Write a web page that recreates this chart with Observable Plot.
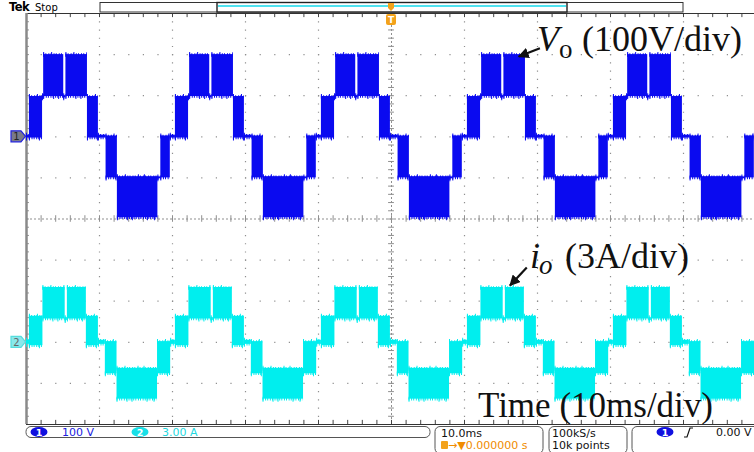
<!DOCTYPE html>
<html><head><meta charset="utf-8">
<script src="https://cdn.jsdelivr.net/npm/d3@7"></script>
<script src="https://cdn.jsdelivr.net/npm/@observablehq/plot@0.6"></script>
<style>
html,body{margin:0;padding:0;background:#fff;}
#chart{position:relative;width:754px;height:452px;overflow:hidden;}
#chart svg{display:block;}
</style></head><body><div id="chart"></div>
<script>
// ---- Channel 1 (output voltage, 100 V/div, ground at +2 div) ----
// breakpoints in ms, band code between consecutive breakpoints
const vBreaks = [0,
  0.4, 2.2, 2.35, 5.1, 5.4, 8.35, 9.85, 10.9, 12.45, 18.0, 18.4, 19.7,
  20.4, 22.2, 22.35, 25.1, 25.4, 28.35, 29.85, 30.9, 32.45, 38.0, 38.4, 39.7,
  40.4, 42.2, 42.35, 45.1, 45.4, 48.35, 49.85, 50.9, 52.45, 58.0, 58.4, 59.7,
  60.4, 62.2, 62.35, 65.1, 65.4, 68.35, 69.85, 70.9, 72.45, 78.0, 78.4, 79.7,
  80.4, 82.2, 82.35, 85.1, 85.4, 88.35, 89.85, 90.9, 92.45, 98.0, 98.4, 99.7, 100];
const vBands = ["z",
  "p1","h","p2","g","p2","p1","z","n1","n2","nh","n1","z",
  "p1","h","p2","g","p2","p1","z","n1","n2","nh","n1","z",
  "p1","h","p2","g","p2","p1","z","n1","n2","nh","n1","z",
  "p1","h","p2","g","p2","p1","z","n1","n2","nh","n1","z",
  "p1","h","p2","g","p2","p1","z","n1","n2","nh","n1","z"];
const vCodes = ["z", "p1", "h", "p2", "g", "n1", "nh", "n2"];
const vLow   = [-3,  -3,   95,  98,   95,  -100, -102, -197];   // volts
const vHigh  = [ 4,   98,  100, 200,  100,  2,   -98,  -97];

// ---- Channel 2 (output current, 3 A/div, ground at -3 div) ----
const iBreaks = [0,
  0.4, 2.25, 5.3, 5.6, 8.2, 9.85, 10.8, 12.4, 17.95, 19.75,
  20.4, 22.25, 25.3, 25.6, 28.2, 29.85, 30.8, 32.4, 37.95, 39.75,
  40.4, 42.25, 45.3, 45.6, 48.2, 49.85, 50.8, 52.4, 57.95, 59.75,
  60.4, 62.25, 65.3, 65.6, 68.2, 69.85, 70.8, 72.4, 77.95, 79.75,
  80.4, 82.25, 85.3, 85.6, 88.2, 89.85, 90.8, 92.4, 97.95, 99.75, 100];
const iBands = ["z",
  "p1","p2","g","p2","p1","z","n1","n2","n1","z",
  "p1","p2","g","p2","p1","z","n1","n2","n1","z",
  "p1","p2","g","p2","p1","z","n1","n2","n1","z",
  "p1","p2","g","p2","p1","z","n1","n2","n1","z",
  "p1","p2","g","p2","p1","z","n1","n2","n1","z"];
const iCodes = ["z", "p1", "p2", "g", "n1", "n2"];
const iLow   = [-0.15, -0.25, 1.7, 1.6, -2.3, -4.15];   // amps
const iHigh  = [ 0.15,  1.9,  4.0, 1.8, 0.05, -1.9];

const vPerDiv = 100, iPerDiv = 3, ch1Offset = 2, ch2Offset = -3;
const xTicksMajor = [10, 20, 30, 40, 60, 70, 80, 90];
const yTicksMajor = [-4, -3, -2, -1, 1, 2, 3, 4];

const C1 = "#0a0af0", C2 = "#00eeee", GRID = "#8f8f8f";

function segs(breaks, bands, codes, lo, hi, perDiv, off) {
  return bands.map((b, i) => {
    const k = codes.indexOf(b);
    return {t1: breaks[i], t2: breaks[i + 1], y1: lo[k] / perDiv + off, y2: hi[k] / perDiv + off};
  });
}
const vSeg = segs(vBreaks, vBands, vCodes, vLow, vHigh, vPerDiv, ch1Offset);
const iSeg = segs(iBreaks, iBands, iCodes, iLow, iHigh, iPerDiv, ch2Offset);

const minorX = d3.range(0, 100.001, 2);
const minorY = d3.range(-5, 5.001, 0.2);

function wave(data, color) {
  const edge = (y, w, dash) => Plot.ruleY(data, {y, x1: "t1", x2: "t2", stroke: color, strokeWidth: w, strokeDasharray: dash});
  return [
    Plot.rect(data, {x1: "t1", x2: "t2", y1: "y1", y2: "y2", fill: color}),
    edge("y2", 2.5, "1,1.2,1,2"), edge("y1", 2.5, "1,1.6,1,1.1"),
    edge("y2", 5, "1,7,1,12,1,5,1,17"), edge("y1", 5, "1,9,1,4,1,14,1,6")
  ];
}

const plot = Plot.plot({
  width: 754, height: 452,
  marginLeft: 26, marginRight: -2, marginTop: 13, marginBottom: 28,
  x: {domain: [0, 100], axis: null},
  y: {domain: [-5, 5], axis: null},
  style: {background: "#fff", overflow: "visible"},
  marks: [
    Plot.ruleX(xTicksMajor, {y1: 5, y2: -5, stroke: GRID, strokeWidth: 1.2, strokeDasharray: "1.2,7.02"}),
    Plot.ruleY(yTicksMajor, {stroke: GRID, strokeWidth: 1.2, strokeDasharray: "1.2,13.4"}),
    Plot.ruleX([50], {y1: 5, y2: -5, stroke: GRID, strokeDasharray: "2,2"}),
    Plot.ruleY([0], {stroke: GRID, strokeDasharray: "2,2"}),
    Plot.ruleX(minorX, {y1: -0.08, y2: 0.08, stroke: GRID}),
    Plot.ruleY(minorY, {x1: 49.6, x2: 50.4, stroke: GRID}),
    Plot.ruleX(minorX, {y1: 5, y2: 4.9, stroke: "#444"}),
    Plot.ruleX(minorX, {y1: -5, y2: -4.9, stroke: "#444"}),
    Plot.ruleY(minorY, {x1: 0, x2: 0.4, stroke: GRID}),
    Plot.ruleY([5], {stroke: "#333"}),
    Plot.ruleY([-5], {stroke: "#333"}),
    Plot.ruleX([0], {y1: 5, y2: -5, stroke: "#8a8a8a", strokeWidth: 2.5}),
    ...wave(vSeg, C1),
    ...wave(iSeg, C2)
  ]
});
document.getElementById("chart").appendChild(plot);

const svg = d3.select(plot);
const X = plot.scale("x"), Y = plot.scale("y");
const px = t => X.apply(t), py = d => Y.apply(d);
const overlay = svg.append("g").attr("text-anchor", "start");

// channel markers
function marker(yy, fill, stroke, label, tcol) {
  const g = overlay.append("g");
  g.append("path").attr("d", `M11,${yy-5.5}H21L25.5,${yy}L21,${yy+5.5}H11Z`)
    .attr("fill", fill).attr("stroke", stroke).attr("stroke-width", 1.2);
  g.append("text").attr("x", 16.5).attr("y", yy + 4).attr("text-anchor", "middle")
    .attr("font-family", "DejaVu Sans").attr("font-size", 10).attr("fill", tcol).text(label);
}
marker(py(ch1Offset), "#7a7a8a", "#2222dd", "1", "#222");
marker(py(ch2Offset), "#8ae8ea", "#55dddd", "2", "#666");

// top bar
const ui = "DejaVu Sans";
overlay.append("text").attr("x", 9).attr("y", 11).attr("font-family", ui).attr("font-weight", "bold")
  .attr("font-size", 11.5).attr("letter-spacing", -0.5).text("Tek");
overlay.append("text").attr("x", 35).attr("y", 11).attr("font-family", ui).attr("font-size", 10).text("Stop");
overlay.append("rect").attr("x", 100).attr("y", 2.5).attr("width", 583).attr("height", 9.5)
  .attr("fill", "#fff").attr("stroke", "#333").attr("stroke-width", 1);
overlay.append("rect").attr("x", 217).attr("y", 2.5).attr("width", 350).attr("height", 9.5)
  .attr("fill", "#fff").attr("stroke", "#222").attr("stroke-width", 1.4);
overlay.append("line").attr("x1", 218).attr("x2", 566).attr("y1", 6).attr("y2", 6)
  .attr("stroke", "#4fe3f0").attr("stroke-width", 2);
const tx = px(50);
overlay.append("path").attr("d", `M${tx-3},3H${tx+3}V8L${tx},11L${tx-3},8Z`).attr("fill", "#f3a21a");
overlay.append("rect").attr("x", tx - 5).attr("y", 14).attr("width", 10).attr("height", 11).attr("rx", 2)
  .attr("fill", "#f3a21a");
overlay.append("text").attr("x", tx).attr("y", 23).attr("text-anchor", "middle").attr("font-family", ui)
  .attr("font-weight", "bold").attr("font-size", 9).attr("fill", "#fff").text("T");

// bottom status bar
function box(x, y, w, h) {
  overlay.append("rect").attr("x", x).attr("y", y).attr("width", w).attr("height", h).attr("rx", 5)
    .attr("fill", "#fff").attr("stroke", "#555").attr("stroke-width", 1);
}
function pill(cx, cy, fill, label) {
  overlay.append("ellipse").attr("cx", cx).attr("cy", cy).attr("rx", 8.5).attr("ry", 5).attr("fill", fill);
  overlay.append("text").attr("x", cx).attr("y", cy + 3.5).attr("text-anchor", "middle").attr("font-family", ui)
    .attr("font-size", 9.5).attr("font-weight", "bold").attr("fill", "#fff").text(label);
}
function txt(x, y, s, col, size) {
  overlay.append("text").attr("x", x).attr("y", y).attr("font-family", ui).attr("font-size", size || 11)
    .attr("fill", col || "#111").text(s);
}
box(26, 426.5, 404, 11);
pill(39, 432, "#1010e0", "1");
txt(62, 436, "100 V", "#2020e0");
pill(140, 432, "#18e0e8", "2");
txt(162, 436, "3.00 A", "#22d8e0");
box(435, 426.5, 108, 27);
txt(441, 437, "10.0ms");
overlay.append("rect").attr("x", 441).attr("y", 441).attr("width", 7).attr("height", 8).attr("rx", 1).attr("fill", "#f3a21a");
txt(448, 449, "→▼0.000000 s", "#f08c00");
box(549, 426.5, 78, 27);
txt(552, 437, "100kS/s");
txt(552, 449, "10k points");
box(632, 426.5, 140, 27);
pill(665, 432, "#1010e0", "1");
overlay.append("path").attr("d", "M684,437H687L690,428H693").attr("fill", "none").attr("stroke", "#111").attr("stroke-width", 1.2);
txt(716, 436, "0.00 V");

// annotations
const serif = "Liberation Serif";
function ann(x, y, s, size, italic) {
  overlay.append("text").attr("x", x).attr("y", y).attr("font-family", serif).attr("font-size", size)
    .attr("font-style", italic ? "italic" : "normal").attr("fill", "#111").text(s);
}
ann(537, 51, "V", 36, true);
ann(559, 58, "o", 27, false);
ann(582, 51, "(100V/div)", 36, false);
ann(530, 268, "i", 36, true);
ann(539, 274, "o", 27, true);
ann(565, 268, "(3A/div)", 36, false);
ann(478, 417, "Time (10ms/div)", 35, false);

overlay.append("defs").append("marker").attr("id", "ah").attr("viewBox", "0 0 10 10").attr("refX", 9).attr("refY", 5)
  .attr("markerWidth", 5).attr("markerHeight", 5).attr("orient", "auto")
  .append("path").attr("d", "M0,0L10,5L0,10Z").attr("fill", "#111");
function arrow(t1, d1, t2, d2) {
  overlay.append("line").attr("x1", px(t1)).attr("y1", py(d1)).attr("x2", px(t2)).attr("y2", py(d2))
    .attr("stroke", "#111").attr("stroke-width", 2.2).attr("marker-end", "url(#ah)");
}
arrow(70.4, 4.14, 67.5, 3.94);
arrow(68.6, -1.19, 66.3, -1.63);
</script></body></html>
